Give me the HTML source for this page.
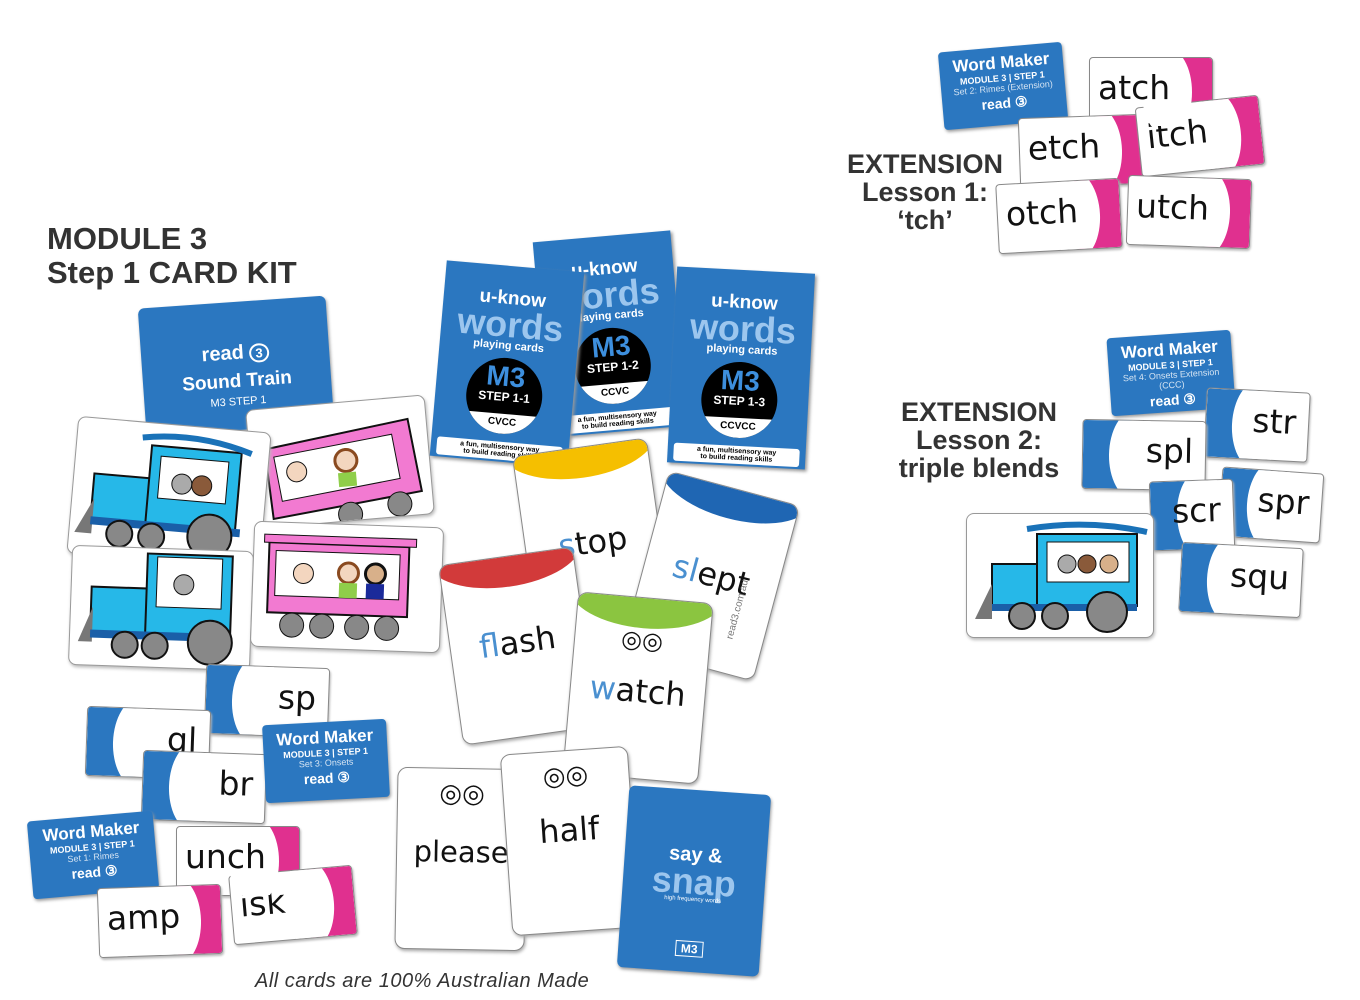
<!DOCTYPE html>
<html><head><meta charset="utf-8"><style>
body{margin:0;width:1360px;height:1000px;background:#fff;position:relative;overflow:hidden;font-family:"Liberation Sans",sans-serif}
.a{position:absolute}
.rc,.oc{position:absolute;width:122px;height:68px;background:#fff;border:1px solid #888;border-radius:4px;overflow:hidden;box-shadow:1px 2px 2px #bbb}
.rc::after{content:"";position:absolute;right:0;top:0;width:44px;height:100%;background:#e0308f}
.rc::before{content:"";position:absolute;right:20px;top:-15%;width:50px;height:130%;background:#fff;border-radius:50%;z-index:1}
.oc::after{content:"";position:absolute;left:0;top:0;width:48px;height:100%;background:#2b77c0}
.oc::before{content:"";position:absolute;left:26px;top:-15%;width:50px;height:130%;background:#fff;border-radius:50%;z-index:1}
.rc span,.oc span{position:absolute;z-index:2;font-family:"DejaVu Sans",sans-serif;font-size:33px;color:#111;top:10px}
.rc span{left:8px}.oc span{right:12px}
.wm{position:absolute;width:124px;height:78px;background:#2b77c0;border-radius:4px;color:#fff;text-align:center;box-shadow:1px 2px 3px #999}
.wm b{display:block;font-size:17px;margin-top:6px;font-weight:bold}
.wm i{display:block;font-style:normal;font-size:9px;font-weight:bold}
.wm s{display:block;text-decoration:none;font-size:9px;opacity:.8}
.wm u{display:block;text-decoration:none;font-size:14px;font-weight:bold;margin-top:2px}
.uk{position:absolute;width:138px;height:196px;background:#2b77c0;color:#fff;text-align:center;box-shadow:2px 2px 3px #999}
.uk .t1{font-weight:bold;font-size:19px;margin-top:22px}
.uk .t2{font-weight:bold;font-size:36px;line-height:30px;color:#9cc6ee}
.uk .t3{font-weight:bold;font-size:11px}
.uk .c{width:76px;height:76px;border-radius:50%;background:#000;margin:6px auto 0;overflow:hidden;position:relative}
.uk .c b{display:block;color:#3d8fde;font-size:28px;margin-top:6px;line-height:26px}
.uk .c i{display:block;font-style:normal;font-size:12px;font-weight:bold}
.uk .c span{position:absolute;bottom:0;left:0;right:0;height:20px;background:#fff;color:#000;font-size:10px;font-weight:bold;line-height:18px}
.uk .bx{background:#fff;color:#000;margin:8px 6px 0;border-radius:3px;font-size:7px;font-weight:bold;padding:2px}
.pc{position:absolute;width:134px;height:180px;background:#fff;border:1px solid #888;border-radius:10px;overflow:hidden;box-shadow:1px 2px 3px #aaa}
.pc .top{position:absolute;left:-10px;right:-10px;top:-40px;height:70px;border-radius:0 0 50% 50%}
.pc span{position:absolute;left:0;right:0;text-align:center;font-family:"DejaVu Sans",sans-serif;font-size:32px;color:#111}
.tc{position:absolute;background:#fff;border:1px solid #999;border-radius:8px;box-shadow:1px 2px 3px #bbb;overflow:hidden}
</style></head><body>

<div class="a" style="left:47px;top:222px;font-size:31px;font-weight:bold;color:#333;line-height:34px">MODULE 3<br>Step 1 CARD KIT</div>

<div class="a" style="left:142px;top:302px;width:188px;height:128px;background:#2b77c0;border-radius:6px;transform:rotate(-4deg);color:#fff;text-align:center;box-shadow:1px 2px 3px #999">
<div style="font-size:20px;font-weight:bold;margin-top:40px">read <span style="border:2px solid #fff;border-radius:50%;font-size:13px;padding:0 4px">3</span></div>
<div style="font-size:19px;font-weight:bold;margin-top:6px">Sound Train</div>
<div style="font-size:11px;margin-top:3px">M3 STEP 1</div></div>

<div class="tc" style="left:250px;top:402px;width:178px;height:118px;transform:rotate(-5deg)">
<svg width="178" height="118"><polygon points="15,40 160,22 168,95 18,110" fill="#f27ad1" stroke="#111" stroke-width="2"/><rect x="25" y="42" width="120" height="45" fill="#fff" stroke="#111" transform="rotate(-6 85 60)"/><circle cx="45" cy="65" r="10" fill="#f3d6bf" stroke="#111"/><circle cx="95" cy="58" r="11" fill="#f3d6bf" stroke="#8a4a20" stroke-width="3"/><rect x="86" y="70" width="18" height="14" fill="#8fce4a"/><circle cx="95" cy="112" r="12" fill="#888" stroke="#111"/><circle cx="145" cy="106" r="12" fill="#888" stroke="#111"/></svg></div>
<div class="tc" style="left:72px;top:424px;width:192px;height:136px;transform:rotate(5deg)">
<svg width="192" height="136"><rect x="20" y="55" width="70" height="45" fill="#26b8e8" stroke="#111" stroke-width="2"/><rect x="75" y="22" width="90" height="80" fill="#26b8e8" stroke="#111" stroke-width="2"/><rect x="85" y="32" width="68" height="42" fill="#fff" stroke="#111"/><path d="M65 15 Q120 5 175 22" stroke="#1a72b8" stroke-width="6" fill="none"/><circle cx="108" cy="58" r="10" fill="#aaa" stroke="#111"/><circle cx="128" cy="58" r="10" fill="#8a5a3a" stroke="#111"/><polygon points="5,115 22,80 22,115" fill="#777"/><rect x="20" y="98" width="150" height="8" fill="#1a5fa8"/><circle cx="50" cy="113" r="13" fill="#888" stroke="#111" stroke-width="2"/><circle cx="82" cy="113" r="13" fill="#888" stroke="#111" stroke-width="2"/><circle cx="140" cy="108" r="22" fill="#888" stroke="#111" stroke-width="2"/></svg></div>
<div class="tc" style="left:70px;top:548px;width:180px;height:118px;transform:rotate(2deg)">
<svg width="180" height="118"><rect x="20" y="40" width="70" height="45" fill="#26b8e8" stroke="#111" stroke-width="2"/><rect x="75" y="5" width="85" height="80" fill="#26b8e8" stroke="#111" stroke-width="2"/><rect x="85" y="8" width="65" height="50" fill="#fff" stroke="#111"/><circle cx="112" cy="35" r="10" fill="#aaa" stroke="#111"/><polygon points="8,95 22,60 22,95" fill="#777"/><rect x="20" y="83" width="140" height="8" fill="#1a5fa8"/><circle cx="55" cy="97" r="13" fill="#888" stroke="#111" stroke-width="2"/><circle cx="85" cy="97" r="13" fill="#888" stroke="#111" stroke-width="2"/><circle cx="140" cy="92" r="22" fill="#888" stroke="#111" stroke-width="2"/></svg></div>
<div class="tc" style="left:252px;top:524px;width:188px;height:124px;transform:rotate(2deg)">
<svg width="188" height="124"><rect x="15" y="20" width="140" height="70" fill="#f27ad1" stroke="#111" stroke-width="2"/><rect x="10" y="12" width="152" height="8" fill="#f27ad1" stroke="#111"/><rect x="22" y="28" width="124" height="45" fill="#fff" stroke="#111"/><circle cx="50" cy="50" r="10" fill="#f3d6bf" stroke="#111"/><circle cx="95" cy="48" r="10" fill="#f3d6bf" stroke="#8a4a20" stroke-width="3"/><circle cx="122" cy="48" r="10" fill="#d8b08a" stroke="#111" stroke-width="3"/><rect x="113" y="58" width="18" height="15" fill="#1a2a9a"/><rect x="86" y="58" width="18" height="15" fill="#8fce4a"/><circle cx="40" cy="102" r="12" fill="#888" stroke="#111"/><circle cx="70" cy="102" r="12" fill="#888" stroke="#111"/><circle cx="105" cy="102" r="12" fill="#888" stroke="#111"/><circle cx="135" cy="102" r="12" fill="#888" stroke="#111"/></svg></div>

<div class="uk" style="left:541px;top:236px;transform:rotate(-5deg)"><div class="t1">u-know</div><div class="t2">words</div><div class="t3">playing cards</div><div class="c"><b>M3</b><i>STEP 1-2</i><span>CCVC</span></div><div class="bx">a fun, multisensory way<br>to build reading skills</div></div>
<div class="uk" style="left:438px;top:266px;transform:rotate(5deg)"><div class="t1">u-know</div><div class="t2">words</div><div class="t3">playing cards</div><div class="c"><b>M3</b><i>STEP 1-1</i><span>CVCC</span></div><div class="bx">a fun, multisensory way<br>to build reading skills</div></div>
<div class="uk" style="left:672px;top:270px;transform:rotate(3deg)"><div class="t1">u-know</div><div class="t2">words</div><div class="t3">playing cards</div><div class="c"><b>M3</b><i>STEP 1-3</i><span>CCVCC</span></div><div class="bx">a fun, multisensory way<br>to build reading skills</div></div>

<div class="pc" style="left:524px;top:446px;transform:rotate(-8deg)"><div class="top" style="background:#f5bf00"></div><span style="top:76px"><span style="position:static;color:#4a90d0">s</span>top</span></div>
<div class="pc" style="left:643px;top:485px;transform:rotate(15deg)"><div class="top" style="background:#1f66b3"></div><span style="top:70px"><span style="position:static;color:#4a90d0">sl</span>ept</span><div class="a" style="right:2px;top:110px;font-size:10px;color:#777;transform:rotate(-90deg)">read3.com.au</div></div>
<div class="pc" style="left:450px;top:555px;transform:rotate(-8deg)"><div class="top" style="background:#d23a3a"></div><span style="top:67px"><span style="position:static;color:#4a90d0">fl</span>ash</span></div>
<div class="pc" style="left:570px;top:597px;transform:rotate(5deg)"><div class="top" style="background:#8bc540"></div><span style="top:28px;font-size:24px">◎◎</span><span style="top:74px"><span style="position:static;color:#4a90d0">w</span>atch</span></div>
<div class="pc" style="left:396px;top:768px;width:128px;transform:rotate(1deg)"><span style="top:10px;font-size:26px">◎◎</span><span style="top:66px;font-size:29px">please</span></div>
<div class="pc" style="left:506px;top:750px;width:126px;transform:rotate(-4deg)"><span style="top:10px;font-size:26px">◎◎</span><span style="top:60px">half</span></div>
<div class="a" style="left:623px;top:790px;width:142px;height:182px;background:#2b77c0;border-radius:6px;transform:rotate(4deg);color:#fff;text-align:center;box-shadow:1px 2px 3px #999">
<div style="font-size:20px;font-weight:bold;margin-top:54px">say &amp;</div><div style="font-size:36px;font-weight:bold;line-height:30px;color:#9cc6ee">snap</div><div style="font-size:6px">high frequency words</div><div style="margin:38px auto 0;width:26px;border:1px solid #fff;font-size:12px;font-weight:bold">M3</div></div>

<div class="oc" style="left:205px;top:666px;transform:rotate(2deg)"><span>sp</span></div>
<div class="oc" style="left:86px;top:708px;transform:rotate(2deg)"><span>gl</span></div>
<div class="oc" style="left:142px;top:752px;transform:rotate(2deg)"><span>br</span></div>
<div class="wm" style="left:264px;top:722px;transform:rotate(-3deg)"><b>Word Maker</b><i>MODULE 3 | STEP 1</i><s>Set 3: Onsets</s><u>read ③</u></div>
<div class="wm" style="left:30px;top:816px;width:126px;transform:rotate(-5deg)"><b>Word Maker</b><i>MODULE 3 | STEP 1</i><s>Set 1: Rimes</s><u>read ③</u></div>
<div class="rc" style="left:176px;top:826px"><span>unch</span></div>
<div class="rc" style="left:98px;top:886px;transform:rotate(-2deg)"><span>amp</span></div>
<div class="rc" style="left:231px;top:870px;transform:rotate(-5deg)"><span>isk</span></div>

<div class="a" style="left:255px;top:970px;font-size:20px;letter-spacing:0.5px;font-style:italic;color:#333">All cards are 100% Australian Made</div>

<div class="wm" style="left:941px;top:47px;transform:rotate(-5deg)"><b>Word Maker</b><i>MODULE 3 | STEP 1</i><s>Set 2: Rimes (Extension)</s><u>read ③</u></div>
<div class="rc" style="left:1089px;top:57px"><span>atch</span></div>
<div class="rc" style="left:1019px;top:116px;transform:rotate(-2deg)"><span>etch</span></div>
<div class="rc" style="left:1138px;top:101px;transform:rotate(-6deg)"><span>itch</span></div>
<div class="rc" style="left:997px;top:181px;transform:rotate(-3deg)"><span>otch</span></div>
<div class="rc" style="left:1127px;top:177px;transform:rotate(2deg)"><span>utch</span></div>
<div class="a" style="left:840px;top:150px;width:170px;text-align:center;font-size:27px;font-weight:bold;color:#333;line-height:28px">EXTENSION<br>Lesson 1:<br>‘tch’</div>

<div class="wm" style="left:1109px;top:334px;transform:rotate(-4deg)"><b>Word Maker</b><i>MODULE 3 | STEP 1</i><s>Set 4: Onsets Extension (CCC)</s><u>read ③</u></div>
<div class="a" style="left:890px;top:398px;width:178px;text-align:center;font-size:27px;font-weight:bold;color:#333;line-height:28px">EXTENSION<br>Lesson 2:<br>triple blends</div>
<div class="oc" style="left:1205px;top:390px;width:102px;transform:rotate(3deg)"><span>str</span></div>
<div class="oc" style="left:1220px;top:470px;width:100px;transform:rotate(4deg)"><span>spr</span></div>
<div class="oc" style="left:1082px;top:420px;transform:rotate(1deg)"><span>spl</span></div>
<div class="oc" style="left:1150px;top:480px;width:82px;transform:rotate(-2deg)"><span>scr</span></div>
<div class="oc" style="left:1180px;top:545px;width:120px;transform:rotate(3deg)"><span>squ</span></div>
<div class="tc" style="left:966px;top:513px;width:186px;height:123px">
<svg width="186" height="123"><rect x="25" y="50" width="70" height="42" fill="#26b8e8" stroke="#111" stroke-width="2"/><rect x="70" y="20" width="100" height="72" fill="#26b8e8" stroke="#111" stroke-width="2"/><rect x="80" y="28" width="82" height="40" fill="#fff" stroke="#111"/><path d="M60 15 Q120 5 180 18" stroke="#1a72b8" stroke-width="6" fill="none"/><circle cx="100" cy="50" r="9" fill="#aaa" stroke="#111"/><circle cx="120" cy="50" r="9" fill="#8a5a3a" stroke="#111"/><circle cx="142" cy="50" r="9" fill="#d8b08a" stroke="#111"/><polygon points="8,105 25,70 25,105" fill="#777"/><rect x="25" y="90" width="145" height="7" fill="#1a5fa8"/><circle cx="55" cy="102" r="13" fill="#888" stroke="#111" stroke-width="2"/><circle cx="88" cy="102" r="13" fill="#888" stroke="#111" stroke-width="2"/><circle cx="140" cy="98" r="20" fill="#888" stroke="#111" stroke-width="2"/></svg></div>
</body></html>
